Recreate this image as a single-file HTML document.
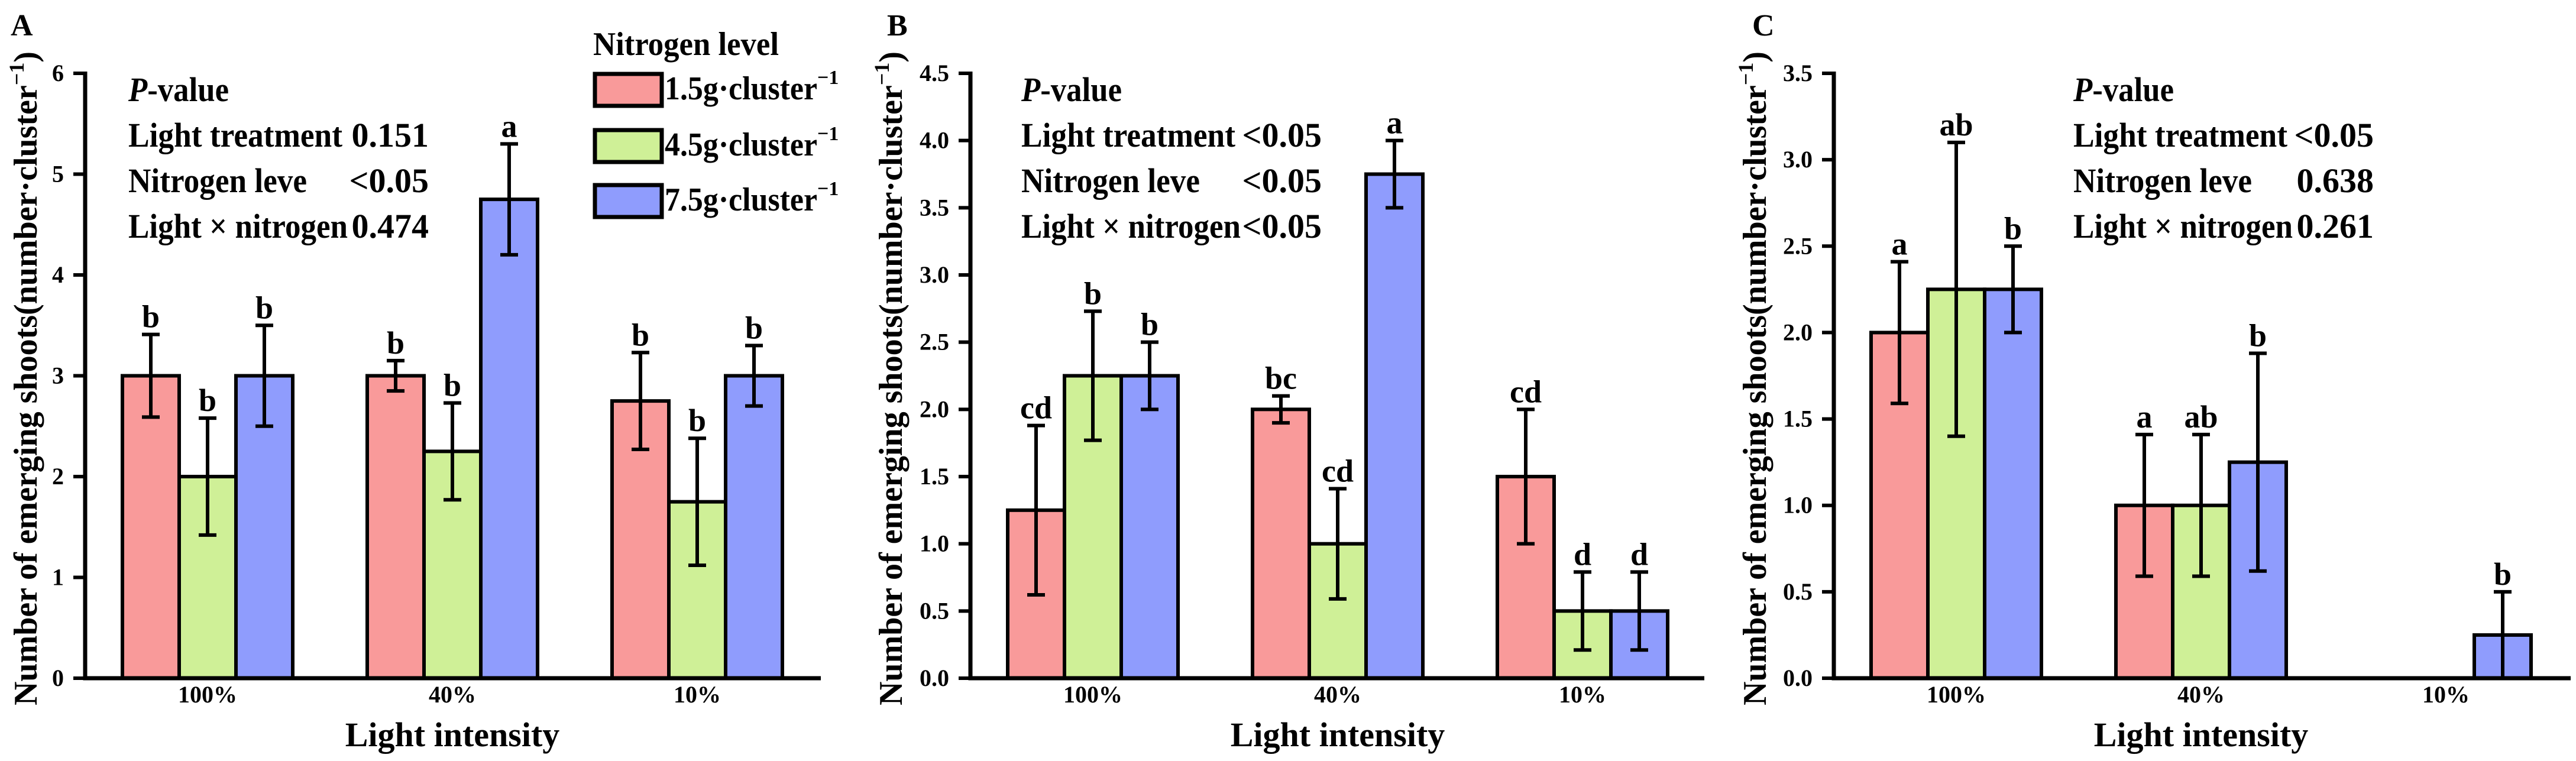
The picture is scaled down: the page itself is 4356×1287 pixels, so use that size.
<!DOCTYPE html>
<html><head><meta charset="utf-8">
<style>
html,body{margin:0;padding:0;background:#fff;}
svg{display:block;font-family:"Liberation Serif","Times New Roman",serif;font-weight:bold;}
</style></head>
<body>
<svg id="fig" width="4356" height="1287" viewBox="0 0 4356 1287" xmlns="http://www.w3.org/2000/svg" font-family="Liberation Serif, serif" font-weight="bold"></svg>
<script>
const categories = ["100%", "40%", "10%"];
const seriesNames = ["1.5g·cluster", "4.5g·cluster", "7.5g·cluster"];
const colors = ["#f99a9a", "#cff097", "#8f9cfd"];

const aMeans = [[3.0, 2.0, 3.0], [3.0, 2.25, 4.75], [2.75, 1.75, 3.0]];
const aErr   = [[0.41, 0.58, 0.5], [0.15, 0.48, 0.55], [0.48, 0.63, 0.3]];
const aLetters = [["b","b","b"],["b","b","a"],["b","b","b"]];
const aTicks = ["0","1","2","3","4","5","6"];
const aPvals = ["0.151", "<0.05", "0.474"];

const bMeans = [[1.25, 2.25, 2.25], [2.0, 1.0, 3.75], [1.5, 0.5, 0.5]];
const bErr   = [[0.63, 0.48, 0.25], [0.1, 0.41, 0.25], [0.5, 0.29, 0.29]];
const bLetters = [["cd","b","b"],["bc","cd","a"],["cd","d","d"]];
const bTicks = ["0.0","0.5","1.0","1.5","2.0","2.5","3.0","3.5","4.0","4.5"];
const bPvals = ["<0.05", "<0.05", "<0.05"];

const cMeans = [[2.0, 2.25, 2.25], [1.0, 1.0, 1.25], [0, 0, 0.25]];
const cErr   = [[0.41, 0.85, 0.25], [0.41, 0.41, 0.63], [0, 0, 0.25]];
const cLetters = [["a","ab","b"],["a","ab","b"],["","","b"]];
const cTicks = ["0.0","0.5","1.0","1.5","2.0","2.5","3.0","3.5"];
const cPvals = ["<0.05", "0.638", "0.261"];

const pLabels = ["Light treatment", "Nitrogen leve", "Light × nitrogen"];
const pLabelW = [362, 302, 371];

const NS = "http://www.w3.org/2000/svg";
const svg = document.getElementById("fig");
function mk(tag, attrs, parent, text){
  const e = document.createElementNS(NS, tag);
  for (const k in attrs) e.setAttribute(k, attrs[k]);
  if (text !== undefined) e.textContent = text;
  (parent || svg).appendChild(e);
  return e;
}

const Y0 = 1147, YTOP = 124, SW = 6;

function panel(cfg){
  const g = mk("g", {});
  
  
  const ax = cfg.axisX;
  const ymax = parseFloat(cfg.ticks[cfg.ticks.length-1]);
  const yS = v => Y0 - (v / ymax) * (Y0 - YTOP);
  const xC = i => ax + 207 + i * 414;
  const bw = 96;

  const pl = mk("text", {x: cfg.letterX, y: 60, "font-size": 52}, g, cfg.id);
  
  

  cfg.means.forEach((grp, ci) => {
    grp.forEach((v, si) => {
      const x = xC(ci) + (si - 1) * bw - bw/2;
      if (v > 0) {
        const r = mk("rect", {x: x, y: yS(v), width: bw, height: Y0 - yS(v), fill: colors[si], stroke: "#000", "stroke-width": SW}, g);
        
        
      }
      const e = cfg.err[ci][si];
      const cx = x + bw/2;
      if (e > 0) {
        const eb = mk("path", {d: `M${cx},${yS(v+e)}V${yS(v-e)}M${cx-15},${yS(v+e)}H${cx+15}M${cx-15},${yS(v-e)}H${cx+15}`, stroke: "#000", "stroke-width": SW, fill: "none"}, g);
        
        
      }
      const lt = cfg.letters[ci][si];
      if (lt) {
        const t = mk("text", {x: cx, y: yS(v+e) - 12, "font-size": 54, "text-anchor": "middle"}, g, lt);
        
        
      }
    });
    const xl = mk("text", {x: xC(ci), y: 1188, "font-size": 40, "text-anchor": "middle"}, g, categories[ci]);
    
    
  });

  const axes = mk("path", {d: `M${ax},${YTOP-3}V${Y0}H${cfg.axisEnd}`, stroke: "#000", "stroke-width": SW+1, fill: "none"}, g);
  
  
  cfg.ticks.forEach(t => {
    const y = yS(parseFloat(t));
    const tk = mk("line", {x1: ax-20, x2: ax, y1: y, y2: y, stroke: "#000", "stroke-width": SW}, g);
    
    
    const tl = mk("text", {x: ax-36, y: y+13, "font-size": 40, "text-anchor": "end"}, g, t);
    
    
  });

  const yt = mk("text", {transform: `translate(${cfg.ylabX},640) rotate(-90)`, "font-size": 56, "text-anchor": "middle"}, g);
  
  
  yt.appendChild(document.createTextNode("Number of emerging shoots(number·cluster"));
  mk("tspan", {"font-size": 36, dy: -22}, yt, "−1");
  mk("tspan", {dy: 22}, yt, ")");

  const xt = mk("text", {x: xC(1), y: 1262, "font-size": 58, "text-anchor": "middle"}, g, "Light intensity");
  
  

  const px = cfg.pX;
  const pt = mk("text", {x: px, y: 171, "font-size": 58, textLength: 170, lengthAdjust: "spacingAndGlyphs"}, g);
  
  
  mk("tspan", {"font-style": "italic"}, pt, "P");
  mk("tspan", {}, pt, "-value");
  pLabels.forEach((l, i) => {
    const t = mk("text", {x: px, y: 248 + i*77, "font-size": 58, textLength: pLabelW[i], lengthAdjust: "spacingAndGlyphs"}, g, l);
    
    
    const v = mk("text", {x: px + 508, y: 248 + i*77, "font-size": 58, "text-anchor": "end"}, g, cfg.pvals[i]);
    
    
  });
}

panel({id:"A", axisX:144, axisEnd:1388, letterX:18, ylabX:62, pX:217, means:aMeans, err:aErr, letters:aLetters, ticks:aTicks, pvals:aPvals});
panel({id:"B", axisX:1641, axisEnd:2882, letterX:1500, ylabX:1525, pX:1727, means:bMeans, err:bErr, letters:bLetters, ticks:bTicks, pvals:bPvals});
panel({id:"C", axisX:3101, axisEnd:4347, letterX:2963, ylabX:2986, pX:3506, means:cMeans, err:cErr, letters:cLetters, ticks:cTicks, pvals:cPvals});

const lg = mk("g", {});


const lgt = mk("text", {x: 1003, y: 93, "font-size": 56, textLength: 314, lengthAdjust: "spacingAndGlyphs"}, lg, "Nitrogen level");


const lgY = [122, 217, 310];
seriesNames.forEach((n, i) => {
  const r = mk("rect", {x: 1006, y: lgY[i]+3, width: 113, height: 54, fill: colors[i], stroke: "#000", "stroke-width": 7}, lg);
  
  
  const t = mk("text", {x: 1124, y: lgY[i]+46, "font-size": 56}, lg);
  
  
  mk("tspan", {textLength: 258, lengthAdjust: "spacingAndGlyphs"}, t, n);
  mk("tspan", {"font-size": 34, dy: -26}, t, "−1");
});
</script>
</body></html>
